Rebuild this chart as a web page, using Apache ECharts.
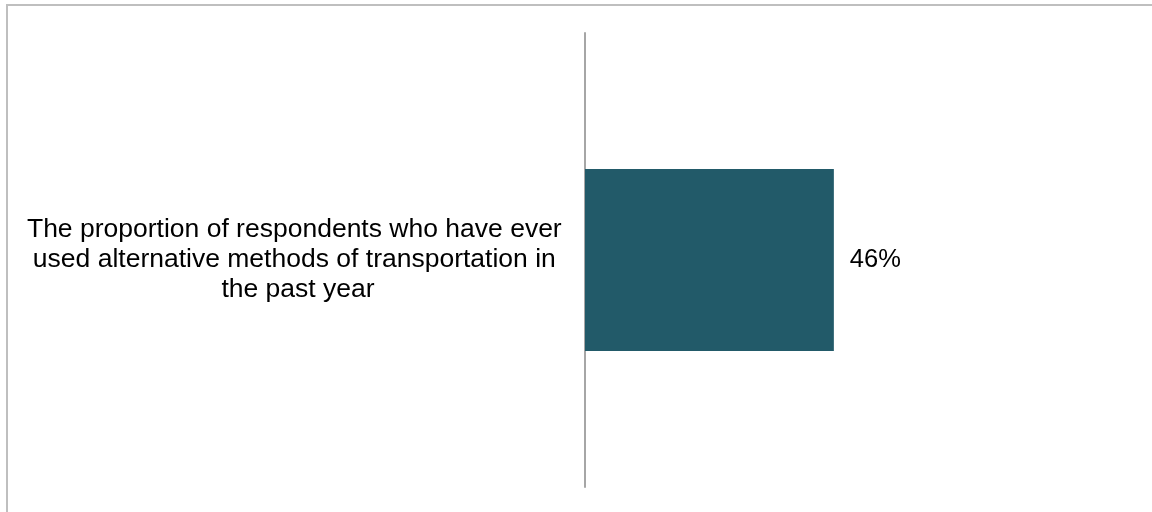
<!DOCTYPE html>
<html>
<head>
<meta charset="utf-8">
<script src="https://cdn.jsdelivr.net/npm/echarts@6/dist/echarts.min.js"></script>
<style>
  html, body { margin: 0; padding: 0; background: #fff; }
  #chart { width: 1152px; height: 512px; }
</style>
</head>
<body>
<div id="chart"></div>
<script>
var categories = ["The proportion of respondents who have ever used alternative methods of transportation in the past year"];
var values = [46];

var chartDom = document.getElementById("chart");
var myChart = echarts.init(chartDom);
var option;

option = {
  animation: false,
  backgroundColor: "#ffffff",
  graphic: [
    {
      type: "rect",
      shape: { x: 7, y: 5, width: 1200, height: 600 },
      style: { fill: "none", stroke: "#bfbfbf", lineWidth: 2 },
      silent: true,
    },
  ],
  grid: {
    left: 585,
    right: 26,
    top: 33,
    bottom: 25,
    containLabel: false,
  },
  xAxis: {
    type: "value",
    min: 0,
    max: 100,
    show: false,
  },
  yAxis: {
    type: "category",
    data: categories,
    axisLine: {
      show: true,
      lineStyle: { color: "#a6a6a6", width: 2 },
    },
    axisTick: { show: false },
    axisLabel: {
      margin: 287,
      align: "center",
      width: 550,
      overflow: "break",
      padding: [12, 0, 0, 0],
      fontFamily: "Liberation Sans, Arial, sans-serif",
      fontSize: 26.5,
      lineHeight: 30,
      color: "#000000",
    },
  },
  series: [
    {
      type: "bar",
      data: values,
      barWidth: 182,
      itemStyle: { color: "#225a69" },
      label: {
        show: true,
        position: "right",
        distance: 16,
        formatter: "{c}%",
        fontFamily: "Liberation Sans, Arial, sans-serif",
        fontSize: 25.5,
        color: "#000000",
      },
    },
  ],
};

option && myChart.setOption(option);
</script>
</body>
</html>
